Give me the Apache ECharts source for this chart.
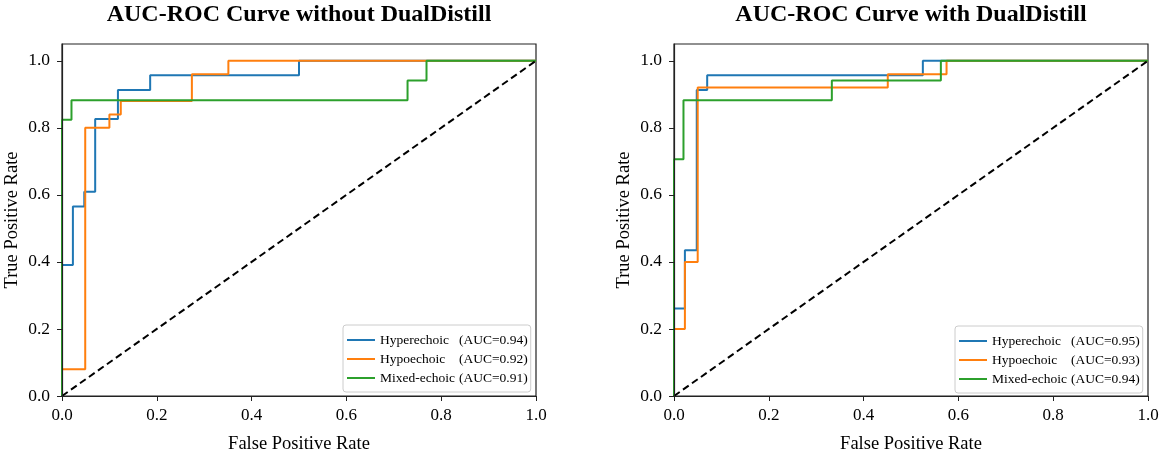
<!DOCTYPE html>
<html>
<head>
<meta charset="utf-8">
<script src="https://cdn.jsdelivr.net/npm/echarts@6/dist/echarts.min.js"></script>
<style>html,body{margin:0;padding:0;background:#fff}#c{width:1169px;height:454px}</style>
</head>
<body>
<div id="c"></div>
<script>
var titles = ['AUC-ROC Curve without DualDistill', 'AUC-ROC Curve with DualDistill'];
var xTicks = [0, 0.2, 0.4, 0.6, 0.8, 1.0];
var yTicks = [0, 0.2, 0.4, 0.6, 0.8, 1.0];
var leftNames = ['Hyperechoic (AUC=0.94)', 'Hypoechoic (AUC=0.92)', 'Mixed-echoic (AUC=0.91)'];
var rightNames = ['Hyperechoic (AUC=0.95)', 'Hypoechoic (AUC=0.93)', 'Mixed-echoic (AUC=0.94)'];
var colors = ['#1f77b4', '#ff7f0e', '#2ca02c'];

var leftHyper = [[0,0],[0,0.391],[0.023,0.391],[0.023,0.565],[0.047,0.565],[0.047,0.609],[0.070,0.609],[0.070,0.826],[0.118,0.826],[0.118,0.913],[0.186,0.913],[0.186,0.957],[0.5,0.957],[0.5,1],[1,1]];
var leftHypo = [[0,0],[0,0.08],[0.049,0.08],[0.049,0.8],[0.100,0.8],[0.100,0.84],[0.124,0.84],[0.124,0.88],[0.274,0.88],[0.274,0.96],[0.351,0.96],[0.351,1],[1,1]];
var leftMixed = [[0,0],[0,0.824],[0.020,0.824],[0.020,0.882],[0.729,0.882],[0.729,0.941],[0.769,0.941],[0.769,1],[1,1]];

var rightHyper = [[0,0],[0,0.261],[0.023,0.261],[0.023,0.435],[0.048,0.435],[0.048,0.913],[0.070,0.913],[0.070,0.957],[0.525,0.957],[0.525,1],[1,1]];
var rightHypo = [[0,0],[0,0.2],[0.023,0.2],[0.023,0.4],[0.050,0.4],[0.050,0.92],[0.451,0.92],[0.451,0.96],[0.575,0.96],[0.575,1],[1,1]];
var rightMixed = [[0,0],[0,0.706],[0.020,0.706],[0.020,0.882],[0.333,0.882],[0.333,0.941],[0.563,0.941],[0.563,1],[1,1]];

var diagonal = [[0,0],[1,1]];

var FONT = '"Liberation Serif", "Times New Roman", serif';
var chart = echarts.init(document.getElementById('c'));

var grids = [
  {left: 62, top: 44, width: 474, height: 352},
  {left: 674, top: 44, width: 474, height: 352}
];

function xAxis(i) {
  return {
    gridIndex: i, type: 'value', min: 0, max: 1, interval: 0.2, z: 5,
    name: 'False Positive Rate', nameLocation: 'middle', nameGap: 39,
    nameTextStyle: {fontFamily: FONT, fontSize: 18.5, color: '#000'},
    axisLine: {show: true, lineStyle: {color: '#222', width: 1.2}},
    axisTick: {show: true, inside: false, length: 5, lineStyle: {color: '#222'}, customValues: xTicks},
    axisLabel: {fontFamily: FONT, fontSize: 17, color: '#000', margin: 11, customValues: xTicks,
      formatter: function (v) { return v.toFixed(1); }},
    splitLine: {show: false}
  };
}
function yAxis(i) {
  return {
    gridIndex: i, type: 'value', min: 0, max: 1.05, z: 5,
    name: 'True Positive Rate', nameLocation: 'middle', nameGap: 40,
    nameTextStyle: {fontFamily: FONT, fontSize: 18.5, color: '#000'},
    axisLine: {show: true, lineStyle: {color: '#222', width: 1.2}},
    axisTick: {show: true, inside: false, length: 5, lineStyle: {color: '#222'}, customValues: yTicks},
    axisLabel: {fontFamily: FONT, fontSize: 17.5, color: '#000', margin: 12, customValues: yTicks,
      formatter: function (v) { return v.toFixed(1); }},
    splitLine: {show: false}
  };
}

function lineSeries(name, data, color, idx) {
  return {
    name: name, type: 'line', data: data, xAxisIndex: idx, yAxisIndex: idx,
    showSymbol: false, symbol: 'none', color: color,
    lineStyle: {color: color, width: 2}, clip: false
  };
}

var series = [];
var leftData = [leftHyper, leftHypo, leftMixed];
var rightData = [rightHyper, rightHypo, rightMixed];
for (var k = 0; k < 3; k++) series.push(lineSeries(leftNames[k], leftData[k], colors[k], 0));
series.push({type: 'line', data: diagonal, xAxisIndex: 0, yAxisIndex: 0, showSymbol: false, symbol: 'none',
  lineStyle: {color: '#000', width: 2, type: [7, 4]}, silent: true});
for (var k = 0; k < 3; k++) series.push(lineSeries(rightNames[k], rightData[k], colors[k], 1));
series.push({type: 'line', data: diagonal, xAxisIndex: 1, yAxisIndex: 1, showSymbol: false, symbol: 'none',
  lineStyle: {color: '#000', width: 2, type: [7, 4]}, silent: true});

function legend(names, left, top) {
  return {
    data: names, left: left, top: top, orient: 'vertical', z: 6,
    backgroundColor: '#fff', borderColor: '#ccc', borderWidth: 1, borderRadius: 3,
    padding: [7, 3, 6, 4], itemGap: 3, itemWidth: 28, itemHeight: 2, itemTextGap: 5,
    icon: 'rect',
    textStyle: {fontFamily: FONT, fontSize: 13.5, color: '#000', lineHeight: 16,
      rich: {
        a: {fontFamily: FONT, fontSize: 13.5, color: '#000', width: 79, lineHeight: 16},
        b: {fontFamily: FONT, fontSize: 13.5, color: '#000', lineHeight: 16}
      }},
    formatter: function (n) {
      var i = n.indexOf(' (');
      return '{a|' + n.slice(0, i) + '}{b|' + n.slice(i + 1) + '}';
    }
  };
}

chart.setOption({
  animation: false,
  backgroundColor: '#fff',
  title: [
    {text: titles[0], left: 299, top: 15, textAlign: 'center', textVerticalAlign: 'middle', padding: 0,
      textStyle: {fontFamily: FONT, fontSize: 24, fontWeight: 'bold', color: '#000'}},
    {text: titles[1], left: 911, top: 15, textAlign: 'center', textVerticalAlign: 'middle', padding: 0,
      textStyle: {fontFamily: FONT, fontSize: 24, fontWeight: 'bold', color: '#000'}}
  ],
  grid: grids.map(function (g) {
    return Object.assign({show: true, borderColor: '#222', borderWidth: 1.2, backgroundColor: 'transparent',
      containLabel: false, outerBoundsMode: 'none'}, g);
  }),
  xAxis: [xAxis(0), xAxis(1)],
  yAxis: [yAxis(0), yAxis(1)],
  legend: [legend(leftNames, 343, 325), legend(rightNames, 955, 326)],
  series: series
});
</script>
</body>
</html>
